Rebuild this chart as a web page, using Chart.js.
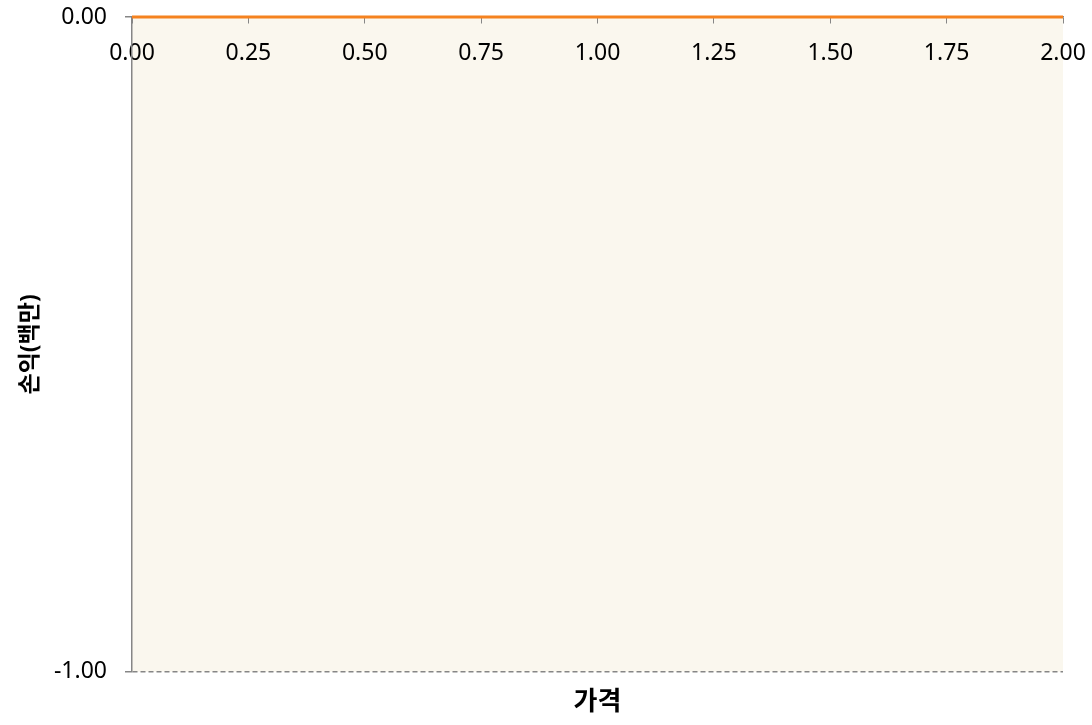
<!DOCTYPE html>
<html>
<head>
<meta charset="utf-8">
<script src="https://cdn.jsdelivr.net/npm/chart.js@4"></script>
<style>
    html, body { margin: 0; padding: 0; background: #fff; }
    #wrap { width: 1092px; height: 725px; }
</style>
</head>
<body>
<div id="wrap"><canvas id="pnlChart"></canvas></div>
<script>
// price points and profit/loss (millions)
const prices = [0, 0.25, 0.5, 0.75, 1, 1.25, 1.5, 1.75, 2];
const profit = [0, 0, 0, 0, 0, 0, 0, 0, 0];
const yTicks = [-1, 0];

const FONT = '"Noto Sans", "Noto Sans CJK KR", sans-serif';
const AXIS_GRAY = '#868686';

// cream fill behind the plot area
const plotBackground = {
    id: 'plotBackground',
    beforeDraw(chart) {
        const { ctx, chartArea } = chart;
        ctx.save();
        ctx.fillStyle = '#FAF7EE';
        ctx.fillRect(chartArea.left, chartArea.top, chartArea.right - chartArea.left, chartArea.bottom - chartArea.top);
        ctx.restore();
    }
};

document.addEventListener('DOMContentLoaded', function() {
    const ctx = document.getElementById('pnlChart').getContext('2d');
    new Chart(ctx, {
        type: 'line',
        data: {
            datasets: [{
                label: '손익',
                data: prices.map((p, i) => ({ x: p, y: profit[i] })),
                borderColor: '#F5821F',
                borderWidth: 3,
                pointRadius: 0,
                clip: false,
                xAxisID: 'x',
                yAxisID: 'y'
            }]
        },
        options: {
            responsive: true,
            maintainAspectRatio: false,
            animation: false,
            layout: { padding: { top: 17, right: 29, bottom: 0, left: 0 } },
            plugins: {
                legend: { display: false },
                tooltip: { enabled: false }
            },
            scales: {
                x: {
                    type: 'linear',
                    position: { y: 0 },
                    min: 0,
                    max: 2,
                    afterFit: function(scale) { scale.paddingLeft = 0; scale.paddingRight = 0; },
                    ticks: {
                        stepSize: 0.25,
                        padding: 17,
                        color: '#000',
                        font: { family: FONT, size: 23 },
                        callback: v => v.toFixed(2)
                    },
                    grid: {
                        drawOnChartArea: false,
                        tickLength: 6,
                        color: AXIS_GRAY
                    },
                    border: { color: AXIS_GRAY, width: 1.5 }
                },
                x2: {
                    type: 'linear',
                    position: 'bottom',
                    ticks: { display: false },
                    grid: { display: false, drawTicks: false },
                    border: { display: false },
                    title: {
                        display: true,
                        text: '가격',
                        color: '#000',
                        font: { family: FONT, size: 26, weight: 'bold' },
                        padding: { top: 15, bottom: 7 }
                    }
                },
                y: {
                    type: 'linear',
                    min: -1,
                    max: 0,
                    afterFit: function(scale) {
                        scale.width = 132;
                        scale.paddingTop = 0;
                        scale.paddingBottom = 0;
                    },
                    afterBuildTicks: function(scale) {
                        scale.ticks = yTicks.map(v => ({ value: v }));
                    },
                    ticks: {
                        padding: 18,
                        color: '#000',
                        font: { family: FONT, size: 23 },
                        callback: v => v.toFixed(2)
                    },
                    grid: {
                        tickLength: 7,
                        tickColor: AXIS_GRAY,
                        color: c => (c.tick && c.tick.value === -1) ? AXIS_GRAY : 'rgba(0,0,0,0)',
                        lineWidth: 1.5
                    },
                    border: { color: AXIS_GRAY, width: 1.5, dash: [5, 3] },
                    title: {
                        display: true,
                        text: '손익(백만)',
                        color: '#000',
                        font: { family: FONT, size: 23, weight: 'bold' },
                        padding: { top: 17, bottom: 0 }
                    }
                }
            }
        },
        plugins: [plotBackground]
    });
});
</script>
</body>
</html>
